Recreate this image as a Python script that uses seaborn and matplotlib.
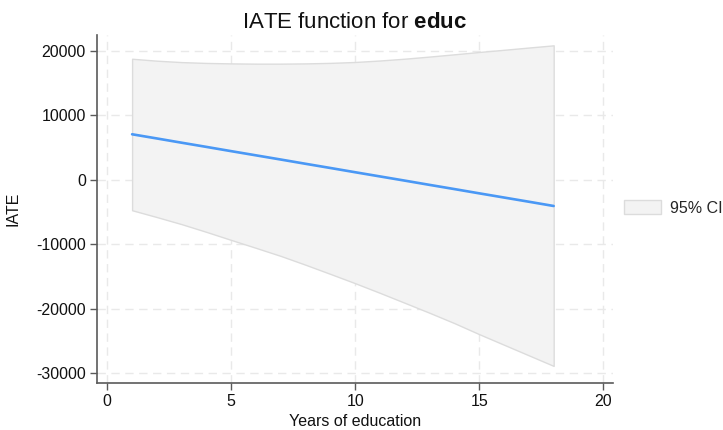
import matplotlib
matplotlib.use("Agg")
import matplotlib.pyplot as plt
import seaborn as sns
import pandas as pd
from matplotlib.patches import Patch

# Years of education
educ = [1, 2, 3, 4, 5, 6, 7, 8, 9, 10, 11, 12, 13, 14, 15, 16, 17, 18]
# Estimated IATE at each level
iate = [7040, 6390, 5730, 5080, 4420, 3770, 3120, 2460, 1810, 1150,
        500, -150, -810, -1460, -2120, -2770, -3420, -4080]
# 95% confidence band
ci_upper = [18750, 18450, 18230, 18100, 18030, 17990, 17990, 18030, 18110, 18250,
            18480, 18760, 19090, 19440, 19800, 20140, 20490, 20830]
ci_lower = [-4740, -5800, -6900, -8100, -9350, -10580, -11830, -13200, -14620, -16060,
            -17560, -19100, -20650, -22250, -23960, -25600, -27240, -28880]

x_ticks = [0, 5, 10, 15, 20]
y_ticks = [-30000, -20000, -10000, 0, 10000, 20000]

df = pd.DataFrame({"educ": educ, "iate": iate, "lo": ci_lower, "hi": ci_upper})

sns.set_theme(style="white")
plt.rcParams["font.family"] = ["Liberation Sans", "DejaVu Sans"]
plt.rcParams["mathtext.fontset"] = "custom"
plt.rcParams["mathtext.rm"] = "Liberation Sans"
plt.rcParams["mathtext.bf"] = "Liberation Sans:bold"
plt.rcParams["axes.unicode_minus"] = False

fig = plt.figure(figsize=(7.23, 4.30), dpi=100)
ax = fig.add_axes([97 / 723, 1 - 382.5 / 430, (612.7 - 97) / 723, (382.5 - 34.7) / 430])

ax.fill_between(df["educ"], df["lo"], df["hi"], facecolor="#f3f3f3",
                edgecolor="#dcdcdc", linewidth=1.0, zorder=2)
sns.lineplot(data=df, x="educ", y="iate", ax=ax, color="#4a98f5",
             linewidth=1.9, zorder=3, legend=False)

ax.set_xlim(-0.415, 20.38)
ax.set_ylim(-31450, 22480)
ax.set_xticks(x_ticks)
ax.set_yticks(y_ticks)
ax.set_xticklabels([str(v) for v in x_ticks])
ax.set_yticklabels([str(v) for v in y_ticks])

ax.grid(True, color="#e9e9e9", linestyle=(0, (6, 4)), linewidth=1.0, zorder=0)
ax.set_axisbelow(True)
for side in ["top", "right"]:
    ax.spines[side].set_visible(False)
for side in ["left", "bottom"]:
    ax.spines[side].set_color("#5a5a5a")
    ax.spines[side].set_linewidth(1.2)
ax.tick_params(axis="both", direction="out", length=5, width=1.0,
               color="#5a5a5a", labelsize=11.5, labelcolor="#111111", pad=3)
ax.tick_params(left=True, bottom=True)

ax.set_xlabel("Years of education", fontsize=11.5, color="#111111", labelpad=4)
ax.set_ylabel("IATE", fontsize=11.5, color="#111111", labelpad=11)
ax.set_title(r"IATE function for $\mathbf{educ}$", fontsize=16, color="#111111", pad=5)

handle = Patch(facecolor="#f3f3f3", edgecolor="#dcdcdc", linewidth=1.0, label="95% CI")
fig.legend(handles=[handle], loc="center left", bbox_to_anchor=(624 / 723, 1 - 208 / 430),
           frameon=False, fontsize=11.5, handlelength=2.3, handleheight=0.9,
           handletextpad=0.6, borderpad=0, borderaxespad=0)

fig.savefig("out.png", dpi=100)
